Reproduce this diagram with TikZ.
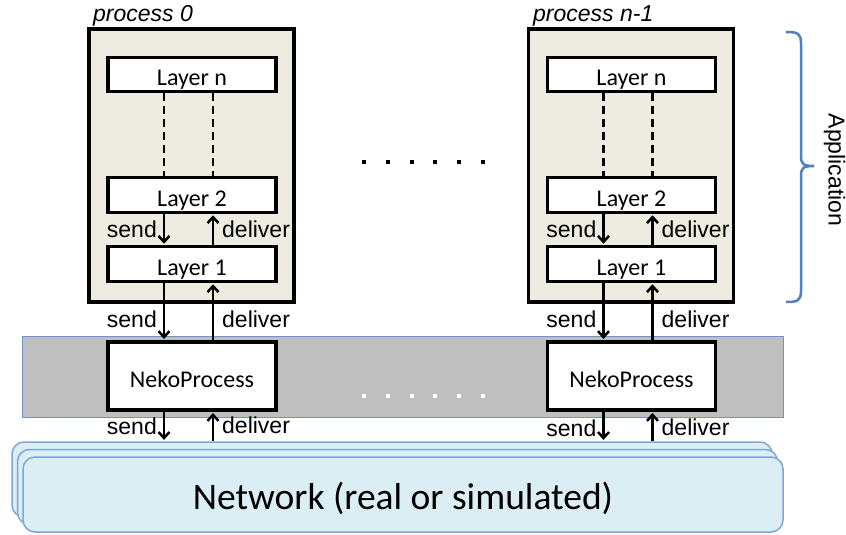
\documentclass[tikz,border=0pt]{standalone}
\usepackage{fontspec}
\setmainfont{Liberation Sans}
\newfontfamily\calfont{Carlito}
\usetikzlibrary{arrows.meta}

\definecolor{procfill}{HTML}{EEECE1}
\definecolor{bandfill}{HTML}{BFBFBF}
\definecolor{bandline}{HTML}{7092C4}
\definecolor{netfill}{HTML}{DAEEF3}
\definecolor{netline}{HTML}{7FA6D6}
\definecolor{bracecol}{HTML}{4F81BD}

\tikzset{
  procbox/.style={draw=black, line width=3.5pt, fill=procfill,
    minimum width=205pt, minimum height=273pt, inner sep=0pt},
  layerbox/.style={draw=black, line width=3.2pt, fill=white,
    minimum width=168pt, inner sep=0pt, text height=28.5pt, text depth=6pt,
    font=\calfont\fontsize{24}{28}\selectfont},
  nekobox/.style={layerbox, text height=45pt, text depth=23pt},
  lbl/.style={font=\fontsize{23}{27}\selectfont, inner sep=0pt},
  proclbl/.style={font=\itshape\fontsize{23}{27}\selectfont, inner sep=0pt, anchor=base west},
  arr/.style={line width=2.5pt, shorten >=1.4pt,
    -{Straight Barb[length=6pt,width=11pt,line width=2.5pt]}},
  link/.style={line width=2.8pt, dash pattern=on 8pt off 5pt},
  band/.style={draw=bandline, line width=1pt, fill=bandfill,
    minimum width=761pt, minimum height=81pt, inner sep=0pt},
  netlayer/.style={draw=netline, line width=1.5pt, fill=netfill, rounded corners=12pt,
    minimum width=760pt, minimum height=75pt, inner sep=0pt},
  sqdot/.style={fill=#1, minimum size=3.5pt, inner sep=0pt},
}

\begin{document}
\begin{tikzpicture}[x=1pt,y=-1pt]
\fill[white] (0,0) rectangle (846,535);
\useasboundingbox (0,0) rectangle (846,535);

% network: three stacked sheets
\node[netlayer] (net3) at (392,479.5) {};
\node[netlayer] (net2) at (397.5,487) {};
\node[netlayer, font=\calfont\fontsize{37.5}{42}\selectfont, text height=52pt, text depth=23pt]
  (net1) at (403,494.5) {Network (real or simulated)};

% NekoProcess band
\node[band] (band) at (402.5,376.5) {};
\foreach \x [count=\k] in {364,388,412,435,459,483}
  \node[sqdot=white] (wd\k) at (\x,396) {};

% dots between the two processes
\foreach \x [count=\k] in {364,388,412,435,459,483}
  \node[sqdot=black] (bd\k) at (\x,162) {};

% the two processes
\node[procbox] (p0) at (191.5,165.5) {};
\node[procbox] (p1) at (631,165.5) {};
\node[proclbl] (p0lbl) at (93,22) {process 0};
\node[proclbl] (p1lbl) at (533,22) {process n-1};

\foreach \i/\cx/\sy in {0/192/434, 1/631.5/436} {
  \node[layerbox] (ln\i) at (\cx,74.5) {Layer n};
  \node[layerbox] (ltwo\i) at (\cx,195) {Layer 2};
  \node[layerbox] (lone\i) at (\cx,264) {Layer 1};
  \node[nekobox] (np\i) at (\cx,376) {NekoProcess};

  % layers between n and 2
  \draw[link] ([xshift=-28pt]ln\i.south) -- ([xshift=-28pt]ltwo\i.north);
  \draw[link] ([xshift=21pt]ln\i.south) -- ([xshift=21pt]ltwo\i.north);

  % Layer 2 <-> Layer 1
  \draw[arr] ([xshift=-28pt]ltwo\i.south) -- ([xshift=-28pt]lone\i.north);
  \draw[arr] ([xshift=21pt]lone\i.north) -- ([xshift=21pt]ltwo\i.south);
  \node[lbl, anchor=base east] (sa\i) at (\cx-35,237) {send};
  \node[lbl, anchor=base west] (da\i) at (\cx+30,237) {deliver};

  % Layer 1 <-> NekoProcess
  \draw[arr] ([xshift=-28pt]lone\i.south) -- ([xshift=-28pt]np\i.north);
  \draw[arr] ([xshift=21pt]np\i.north) -- ([xshift=21pt]lone\i.south);
  \node[lbl, anchor=base east] (sb\i) at (\cx-35,327) {send};
  \node[lbl, anchor=base west] (db\i) at (\cx+30,327) {deliver};

  % NekoProcess <-> network
  \draw[arr] ([xshift=-28pt]np\i.south) -- ([xshift=-28pt]np\i.south |- net3.north);
  \draw[arr] ([xshift=21pt]np\i.south |- net3.north) -- ([xshift=21pt]np\i.south);
  \node[lbl, anchor=base east] (sc\i) at (\cx-35,\sy) {send};
  \node[lbl, anchor=base west] (dc\i) at (\cx+30,\sy-1) {deliver};
}

% application brace
\draw[bracecol, line width=2.5pt]
  (786,32) .. controls (797,32) and (801,33) .. (801,43) -- (801,156)
  .. controls (801,164) and (803,166) .. (814,166)
  .. controls (803,166) and (801,168) .. (801,176) -- (801,291)
  .. controls (801,301) and (797,302) .. (786,302);
\node[lbl, rotate=-90] (app) at (834.5,170) {Application};
\end{tikzpicture}
\end{document}
